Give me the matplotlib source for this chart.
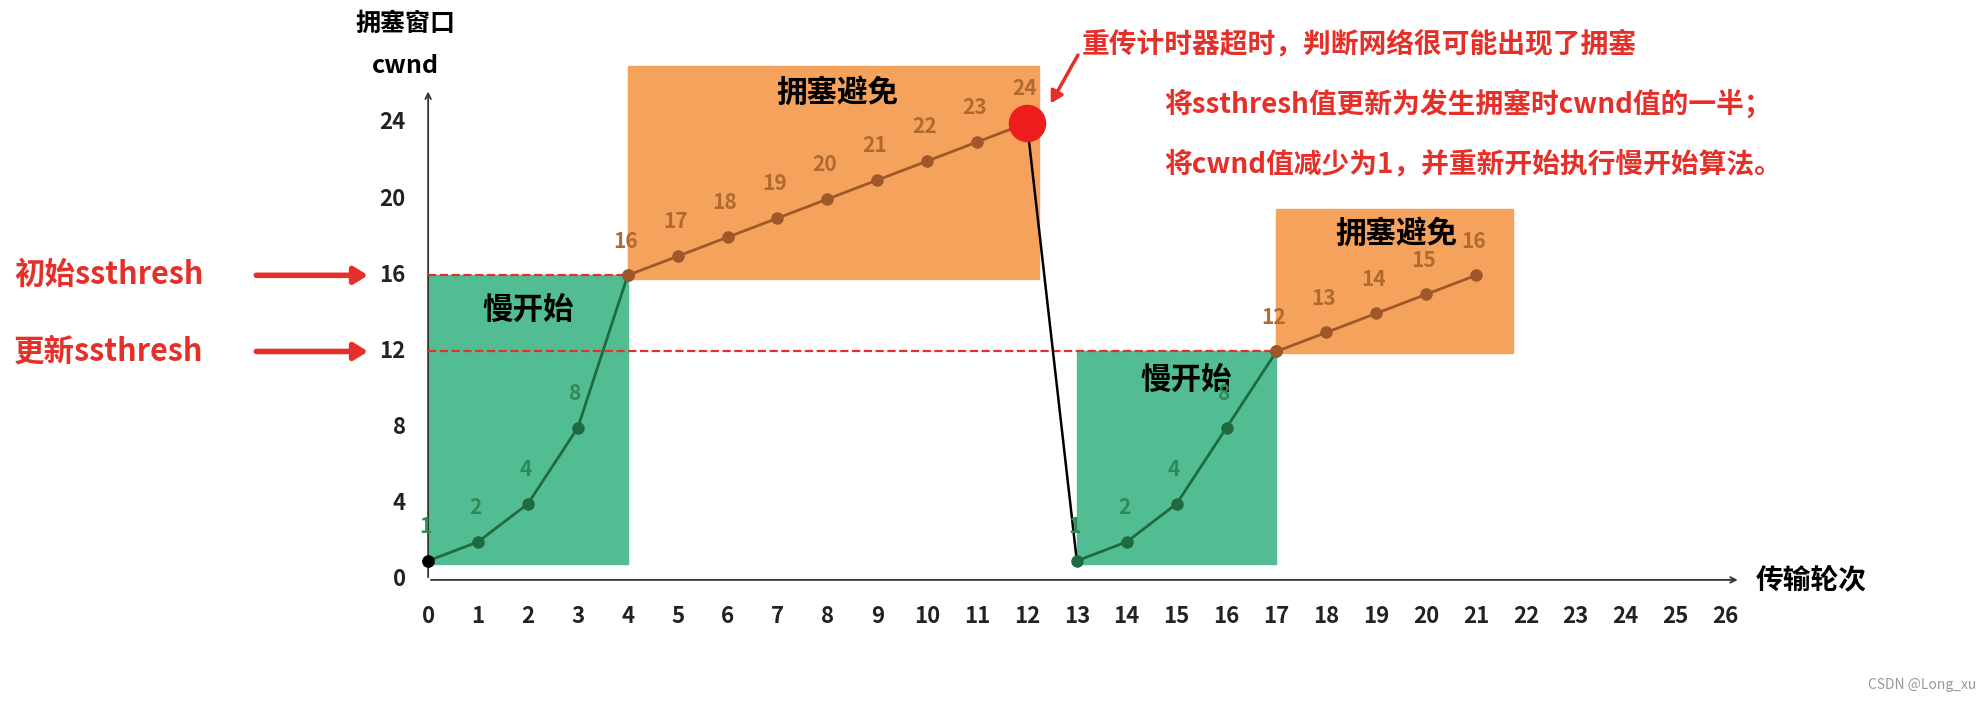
import matplotlib
matplotlib.use("Agg")
import matplotlib.pyplot as plt

plt.rcParams['font.family'] = ['Noto Sans CJK SC', 'DejaVu Sans']

# data
ss1_x = [0, 1, 2, 3, 4]
ss1_y = [1, 2, 4, 8, 16]
ca1_x = [4, 5, 6, 7, 8, 9, 10, 11, 12]
ca1_y = [16, 17, 18, 19, 20, 21, 22, 23, 24]
drop_x = [12, 13]
drop_y = [24, 1]
ss2_x = [13, 14, 15, 16, 17]
ss2_y = [1, 2, 4, 8, 12]
ca2_x = [17, 18, 19, 20, 21]
ca2_y = [12, 13, 14, 15, 16]
xticks = list(range(0, 27))
yticks = [0, 4, 8, 12, 16, 20, 24]
init_ssthresh = 16
new_ssthresh = 12

GREEN = '#52bd93'
ORANGE = '#f5a25d'
DGREEN = '#1f6b40'
BROWN = '#a0582a'
RED = '#e5302a'

fig = plt.figure(figsize=(19.86, 7.13), dpi=100)
ax = fig.add_axes([0, 0, 1, 1])
ax.set_xlim(-8.58, 31.22)
ax.set_ylim(-6.99, 30.46)
ax.axis('off')

# regions
ax.add_patch(plt.Rectangle((0, 0.85), 4, 15.15, color=GREEN, zorder=1))
ax.add_patch(plt.Rectangle((4, 15.8), 8.25, 11.2, color=ORANGE, zorder=1))
ax.add_patch(plt.Rectangle((13, 0.85), 4, 11.15, color=GREEN, zorder=1))
ax.add_patch(plt.Rectangle((17, 11.9), 4.75, 7.6, color=ORANGE, zorder=1))

# axes arrows
ax.annotate('', xy=(0, 25.8), xytext=(0, 0), arrowprops=dict(arrowstyle='->', color='#333333', lw=1.3), zorder=2)
ax.annotate('', xy=(26.3, 0), xytext=(0, 0), arrowprops=dict(arrowstyle='->', color='#333333', lw=1.3), zorder=2)
for t in xticks:
    ax.text(t, -1.9, str(t), ha='center', va='center', fontsize=16, fontweight='bold', color='#222222')
for t in yticks:
    ax.text(-0.45, t, str(t), ha='right', va='center', fontsize=16, fontweight='bold', color='#222222')
ax.text(-0.45, 29.2, '拥塞窗口', ha='center', va='center', fontsize=18, fontweight='bold')
ax.text(-0.45, 27.0, 'cwnd', ha='center', va='center', fontsize=18, fontweight='bold')
ax.text(26.6, 0, '传输轮次', ha='left', va='center', fontsize=20, fontweight='bold')

# thresholds
ax.plot([0, 4], [init_ssthresh] * 2, ls='--', color=RED, lw=1.6, zorder=2)
ax.plot([0, 17], [new_ssthresh] * 2, ls='--', color=RED, lw=1.6, zorder=2)
for y, lab in [(init_ssthresh, '初始ssthresh'), (new_ssthresh, '更新ssthresh')]:
    ax.text(-8.3, y, lab, ha='left', va='center', fontsize=22, fontweight='bold', color=RED)
    ax.annotate('', xy=(-1.15, y), xytext=(-3.5, y),
                arrowprops=dict(arrowstyle='-|>,head_width=0.5,head_length=0.8', color=RED, lw=4))

# curves
ax.plot(drop_x, drop_y, color='black', lw=1.8, zorder=3)
for xs, ys, c in [(ss1_x, ss1_y, DGREEN), (ca1_x, ca1_y, BROWN), (ss2_x, ss2_y, DGREEN), (ca2_x, ca2_y, BROWN)]:
    ax.plot(xs, ys, color=c, lw=2, marker='o', ms=8, zorder=4)
    for x, y in zip(xs, ys):
        if (x, y) in [(4, 16), (17, 12), (12, 24)] and c == DGREEN:
            continue
        ax.text(x - 0.05, y + 1.8, str(y), ha='center', va='center', fontsize=15,
                fontweight='bold', color='#2f8a58' if c == DGREEN else '#b06a30', zorder=5)
ax.plot([0], [1], 'o', color='black', ms=8, zorder=5)
ax.plot([12], [24], 'o', color='#ee1c1c', ms=26, zorder=6)

# labels
ax.text(8.2, 25.6, '拥塞避免', ha='center', va='center', fontsize=22, fontweight='bold')
ax.text(2.0, 14.2, '慢开始', ha='center', va='center', fontsize=22, fontweight='bold')
ax.text(15.2, 10.5, '慢开始', ha='center', va='center', fontsize=22, fontweight='bold')
ax.text(19.4, 18.2, '拥塞避免', ha='center', va='center', fontsize=22, fontweight='bold')

ax.annotate('', xy=(12.45, 24.9), xytext=(13.05, 27.7),
            arrowprops=dict(arrowstyle='-|>,head_width=0.4,head_length=0.7', color=RED, lw=2.5))
ax.text(13.1, 28.1, '重传计时器超时，判断网络很可能出现了拥塞', ha='left', va='center', fontsize=20, fontweight='bold', color=RED)
ax.text(14.75, 25.0, '将ssthresh值更新为发生拥塞时cwnd值的一半；', ha='left', va='center', fontsize=20, fontweight='bold', color=RED)
ax.text(14.75, 21.8, '将cwnd值减少为1，并重新开始执行慢开始算法。', ha='left', va='center', fontsize=20, fontweight='bold', color=RED)

ax.text(0.995, 0.03, 'CSDN @Long_xu', transform=ax.transAxes, ha='right', va='bottom', fontsize=10, color='#999999')

fig.savefig('out.png', dpi=100)
